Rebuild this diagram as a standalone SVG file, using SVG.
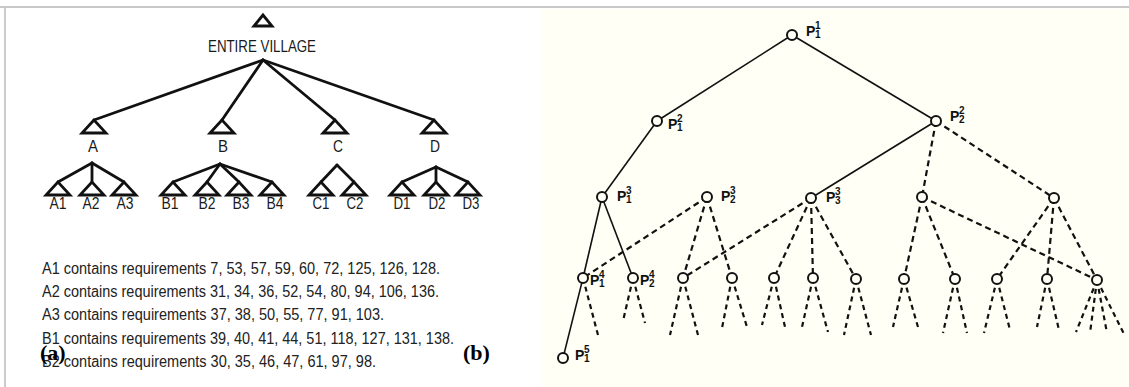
<svg xmlns="http://www.w3.org/2000/svg" width="1129" height="387" viewBox="0 0 1129 387">
<style>
.lbl{font-family:"Liberation Sans",Arial,sans-serif;font-size:16px;fill:#1a1a1a;text-anchor:middle}
.req{font-family:"Liberation Sans",Arial,sans-serif;font-size:16px;fill:#222}
.pl{font-family:"Liberation Sans",Arial,sans-serif;font-weight:bold;fill:#111}
.node{fill:#fffff6;stroke:#111;stroke-width:2}
.tl{stroke:#111;stroke-width:2.8;fill:none;stroke-linecap:round}
.s{stroke:#111;stroke-width:1.6;fill:none}
.d{stroke:#111;stroke-width:2.2;stroke-dasharray:6 4;fill:none}
.lf{stroke:#111;stroke-width:2.2;stroke-dasharray:5 4;fill:none}
.tag{font-family:"Liberation Serif","Times New Roman",serif;font-weight:bold;font-size:22px;fill:#000}
</style>
<defs>
<polygon id="t" points="0,0 -12,13 12,13" fill="#fff" stroke="#111" stroke-width="2.8" stroke-linejoin="miter"/>
<polygon id="t0" points="0,0 -9,11 9,11" fill="#fff" stroke="#111" stroke-width="2.8" stroke-linejoin="miter"/>
</defs>
<rect width="1129" height="387" fill="#fff"/>
<rect x="541" y="9" width="588" height="378" fill="#fffff5"/>
<line x1="0" y1="7" x2="1129" y2="7" stroke="#c8c8c8" stroke-width="2"/>
<line x1="5" y1="7" x2="5" y2="387" stroke="#cccccc" stroke-width="2"/>

<g id="connectors">
  <g id="left-lines" class="tl">
    <line x1="263" y1="60" x2="94" y2="120"/>
    <line x1="263" y1="60" x2="222" y2="120"/>
    <line x1="263" y1="60" x2="335" y2="120"/>
    <line x1="263" y1="60" x2="434" y2="120"/>
    <line x1="92" y1="163" x2="58" y2="182"/>
    <line x1="92" y1="163" x2="92" y2="182"/>
    <line x1="92" y1="163" x2="124" y2="182"/>
    <line x1="220" y1="164" x2="173" y2="182"/>
    <line x1="220" y1="164" x2="207" y2="182"/>
    <line x1="220" y1="164" x2="239" y2="182"/>
    <line x1="220" y1="164" x2="272" y2="182"/>
    <line x1="337" y1="165" x2="321" y2="182"/>
    <line x1="337" y1="165" x2="354" y2="182"/>
    <line x1="436" y1="167" x2="402" y2="182"/>
    <line x1="436" y1="167" x2="436" y2="182"/>
    <line x1="436" y1="167" x2="468" y2="182"/>
  </g>
  <g id="right-solid" class="s">
    <line x1="792" y1="35" x2="657" y2="121"/>
    <line x1="792" y1="35" x2="936" y2="121"/>
    <line x1="657" y1="121" x2="602" y2="197"/>
    <line x1="936" y1="121" x2="811" y2="198"/>
    <line x1="602" y1="197" x2="583" y2="278"/>
    <line x1="602" y1="197" x2="633" y2="278"/>
    <line x1="583" y1="278" x2="563" y2="358"/>
  </g>
  <g id="right-dashed" class="d">
    <line x1="936" y1="121" x2="922" y2="197"/>
    <line x1="936" y1="121" x2="1054" y2="198"/>
    <line x1="707" y1="197" x2="583" y2="278"/>
    <line x1="707" y1="197" x2="683" y2="278"/>
    <line x1="707" y1="197" x2="732" y2="278"/>
    <line x1="811" y1="198" x2="683" y2="278"/>
    <line x1="811" y1="198" x2="774" y2="278"/>
    <line x1="811" y1="198" x2="813" y2="278"/>
    <line x1="811" y1="198" x2="856" y2="279"/>
    <line x1="922" y1="197" x2="904" y2="279"/>
    <line x1="922" y1="197" x2="955" y2="279"/>
    <line x1="922" y1="197" x2="1097" y2="280"/>
    <line x1="1054" y1="198" x2="997" y2="279"/>
    <line x1="1054" y1="198" x2="1047" y2="279"/>
    <line x1="1054" y1="198" x2="1097" y2="280"/>
  </g>
  <g id="leaves" class="lf">
    <line x1="583" y1="278" x2="598" y2="335"/>
    <line x1="633" y1="278" x2="623" y2="321"/>
    <line x1="633" y1="278" x2="645" y2="323"/>
    <line x1="683" y1="278" x2="670" y2="335"/>
    <line x1="683" y1="278" x2="698" y2="335"/>
    <line x1="732" y1="278" x2="722" y2="328"/>
    <line x1="732" y1="278" x2="747" y2="327"/>
    <line x1="774" y1="278" x2="762" y2="325"/>
    <line x1="774" y1="278" x2="785" y2="327"/>
    <line x1="813" y1="278" x2="802" y2="327"/>
    <line x1="813" y1="278" x2="828" y2="332"/>
    <line x1="856" y1="279" x2="844" y2="335"/>
    <line x1="856" y1="279" x2="871" y2="335"/>
    <line x1="904" y1="279" x2="893" y2="327"/>
    <line x1="904" y1="279" x2="918" y2="327"/>
    <line x1="955" y1="279" x2="943" y2="333"/>
    <line x1="955" y1="279" x2="967" y2="333"/>
    <line x1="997" y1="279" x2="984" y2="333"/>
    <line x1="997" y1="279" x2="1010" y2="330"/>
    <line x1="1047" y1="279" x2="1037" y2="327"/>
    <line x1="1047" y1="279" x2="1059" y2="330"/>
    <line x1="1097" y1="280" x2="1076" y2="332"/>
    <line x1="1097" y1="280" x2="1090" y2="333"/>
    <line x1="1097" y1="280" x2="1107" y2="333"/>
    <line x1="1097" y1="280" x2="1124" y2="334"/>
  </g>
</g>

<g id="village"><use href="#t0" x="263" y="15"/><text class="lbl" x="262" y="52" font-size="17" textLength="108" lengthAdjust="spacingAndGlyphs">ENTIRE VILLAGE</text></g>
<g id="A"><use href="#t" x="94" y="120"/><text class="lbl" x="93" y="152" textLength="10" lengthAdjust="spacingAndGlyphs">A</text></g>
<g id="B"><use href="#t" x="222" y="120"/><text class="lbl" x="223" y="152" textLength="10" lengthAdjust="spacingAndGlyphs">B</text></g>
<g id="C"><use href="#t" x="335" y="120"/><text class="lbl" x="338" y="152" textLength="10" lengthAdjust="spacingAndGlyphs">C</text></g>
<g id="D"><use href="#t" x="434" y="120"/><text class="lbl" x="435" y="152" textLength="10" lengthAdjust="spacingAndGlyphs">D</text></g>
<g id="A1"><use href="#t" x="58" y="182"/><text class="lbl" x="58" y="209" textLength="17" lengthAdjust="spacingAndGlyphs">A1</text></g>
<g id="A2"><use href="#t" x="92" y="182"/><text class="lbl" x="91" y="209" textLength="17" lengthAdjust="spacingAndGlyphs">A2</text></g>
<g id="A3"><use href="#t" x="124" y="182"/><text class="lbl" x="125" y="209" textLength="17" lengthAdjust="spacingAndGlyphs">A3</text></g>
<g id="B1"><use href="#t" x="173" y="182"/><text class="lbl" x="170" y="209" textLength="17" lengthAdjust="spacingAndGlyphs">B1</text></g>
<g id="B2"><use href="#t" x="207" y="182"/><text class="lbl" x="207" y="209" textLength="17" lengthAdjust="spacingAndGlyphs">B2</text></g>
<g id="B3"><use href="#t" x="239" y="182"/><text class="lbl" x="241" y="209" textLength="17" lengthAdjust="spacingAndGlyphs">B3</text></g>
<g id="B4"><use href="#t" x="272" y="182"/><text class="lbl" x="275" y="209" textLength="17" lengthAdjust="spacingAndGlyphs">B4</text></g>
<g id="C1"><use href="#t" x="321" y="182"/><text class="lbl" x="321" y="209" textLength="17" lengthAdjust="spacingAndGlyphs">C1</text></g>
<g id="C2"><use href="#t" x="354" y="182"/><text class="lbl" x="355" y="209" textLength="17" lengthAdjust="spacingAndGlyphs">C2</text></g>
<g id="D1"><use href="#t" x="402" y="182"/><text class="lbl" x="402" y="209" textLength="17" lengthAdjust="spacingAndGlyphs">D1</text></g>
<g id="D2"><use href="#t" x="436" y="182"/><text class="lbl" x="437" y="209" textLength="17" lengthAdjust="spacingAndGlyphs">D2</text></g>
<g id="D3"><use href="#t" x="468" y="182"/><text class="lbl" x="471" y="209" textLength="17" lengthAdjust="spacingAndGlyphs">D3</text></g>

<g id="requirements">
<text class="req" x="42" y="274" textLength="398" lengthAdjust="spacingAndGlyphs">A1 contains requirements 7, 53, 57, 59, 60, 72, 125, 126, 128.</text>
<text class="req" x="42" y="297" textLength="397" lengthAdjust="spacingAndGlyphs">A2 contains requirements 31, 34, 36, 52, 54, 80, 94, 106, 136.</text>
<text class="req" x="42" y="320" textLength="342" lengthAdjust="spacingAndGlyphs">A3 contains requirements 37, 38, 50, 55, 77, 91, 103.</text>
<text class="req" x="42" y="344" textLength="412" lengthAdjust="spacingAndGlyphs">B1 contains requirements 39, 40, 41, 44, 51, 118, 127, 131, 138.</text>
<text class="req" x="42" y="367" textLength="334" lengthAdjust="spacingAndGlyphs">B2 contains requirements 30, 35, 46, 47, 61, 97, 98.</text>
</g>
<text class="tag" x="40" y="360">(a)</text>
<text class="tag" x="463" y="360">(b)</text>

<g id="P11"><circle class="node" cx="792" cy="35" r="5"/><text class="pl" x="806" y="36" font-size="14">P</text><text class="pl" x="815" y="29" font-size="10">1</text><text class="pl" x="815" y="38" font-size="10">1</text></g>
<g id="P12"><circle class="node" cx="657" cy="121" r="5"/><text class="pl" x="668" y="129" font-size="14">P</text><text class="pl" x="677" y="122" font-size="10">2</text><text class="pl" x="677" y="131" font-size="10">1</text></g>
<g id="P22"><circle class="node" cx="936" cy="121" r="5"/><text class="pl" x="950" y="121" font-size="14">P</text><text class="pl" x="959" y="114" font-size="10">2</text><text class="pl" x="959" y="123" font-size="10">2</text></g>
<g id="P13"><circle class="node" cx="602" cy="197" r="5"/><text class="pl" x="617" y="201" font-size="14">P</text><text class="pl" x="626" y="194" font-size="10">3</text><text class="pl" x="626" y="203" font-size="10">1</text></g>
<g id="P23"><circle class="node" cx="707" cy="197" r="5"/><text class="pl" x="721" y="201" font-size="14">P</text><text class="pl" x="730" y="194" font-size="10">3</text><text class="pl" x="730" y="203" font-size="10">2</text></g>
<g id="P33"><circle class="node" cx="811" cy="198" r="5"/><text class="pl" x="826" y="202" font-size="14">P</text><text class="pl" x="835" y="195" font-size="10">3</text><text class="pl" x="835" y="204" font-size="10">3</text></g>
<g id="N34"><circle class="node" cx="922" cy="197" r="5"/></g>
<g id="N35"><circle class="node" cx="1054" cy="198" r="5"/></g>
<g id="P14"><circle class="node" cx="583" cy="278" r="5"/><text class="pl" x="590" y="285" font-size="14">P</text><text class="pl" x="599" y="278" font-size="10">4</text><text class="pl" x="599" y="287" font-size="10">1</text></g>
<g id="P24"><circle class="node" cx="633" cy="278" r="5"/><text class="pl" x="640" y="285" font-size="14">P</text><text class="pl" x="649" y="278" font-size="10">4</text><text class="pl" x="649" y="287" font-size="10">2</text></g>
<g id="N43"><circle class="node" cx="683" cy="278" r="5"/></g>
<g id="N44"><circle class="node" cx="732" cy="278" r="5"/></g>
<g id="N45"><circle class="node" cx="774" cy="278" r="5"/></g>
<g id="N46"><circle class="node" cx="813" cy="278" r="5"/></g>
<g id="N47"><circle class="node" cx="856" cy="279" r="5"/></g>
<g id="N48"><circle class="node" cx="904" cy="279" r="5"/></g>
<g id="N49"><circle class="node" cx="955" cy="279" r="5"/></g>
<g id="N410"><circle class="node" cx="997" cy="279" r="5"/></g>
<g id="N411"><circle class="node" cx="1047" cy="279" r="5"/></g>
<g id="N412"><circle class="node" cx="1097" cy="280" r="5"/></g>
<g id="P15"><circle class="node" cx="563" cy="358" r="5"/><text class="pl" x="575" y="360" font-size="14">P</text><text class="pl" x="584" y="353" font-size="10">5</text><text class="pl" x="584" y="362" font-size="10">1</text></g>
</svg>
